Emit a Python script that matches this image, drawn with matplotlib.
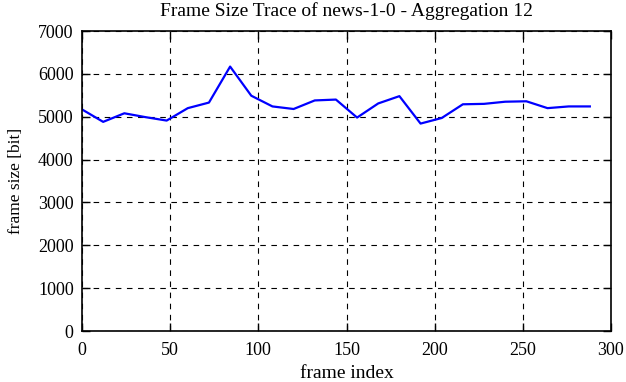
import matplotlib
matplotlib.use('Agg')
import matplotlib.pyplot as plt
import numpy as np

frame_index = [0, 12, 24, 36, 48, 60, 72, 84, 96, 108, 120, 132, 144,
               156, 168, 180, 192, 204, 216, 228, 240, 252, 264, 276, 288]
frame_size = [5170, 4880, 5080, 4990, 4910, 5200, 5330, 6170, 5490, 5240, 5180, 5380, 5400,
              4980, 5310, 5480, 4840, 4970, 5290, 5300, 5350, 5360, 5200, 5240, 5240]

plt.rcParams['font.family'] = ['Liberation Serif', 'DejaVu Serif']
plt.rcParams['font.size'] = 13

fig = plt.figure(figsize=(6.26, 3.82), dpi=100)
ax = fig.add_axes([82 / 626, 1 - 331 / 382, 529 / 626, 300 / 382])

ax.plot(frame_index, frame_size, '-', color='#0000ff', linewidth=1.6)

ax.set_xlim(0, 300)
ax.set_ylim(0, 7000)
ax.set_xticks(np.arange(0, 301, 50))
ax.set_yticks(np.arange(0, 7001, 1000))
ax.grid(color='black', linestyle=(0, (5, 5)), linewidth=0.8)
ax.tick_params(axis='both', direction='in', top=True, right=True, length=6, width=1)
ax.tick_params(axis='x', pad=8)
ax.tick_params(axis='y', pad=6)
for s in ax.spines.values():
    s.set_linewidth(1.2)

ax.set_title('Frame Size Trace of news-1-0 - Aggregation 12', fontsize=14, pad=11)
ax.set_xlabel('frame index', fontsize=14, labelpad=4)
ax.set_ylabel('frame size [bit]', fontsize=12.5, labelpad=10)

plt.savefig('out.png', dpi=100)
